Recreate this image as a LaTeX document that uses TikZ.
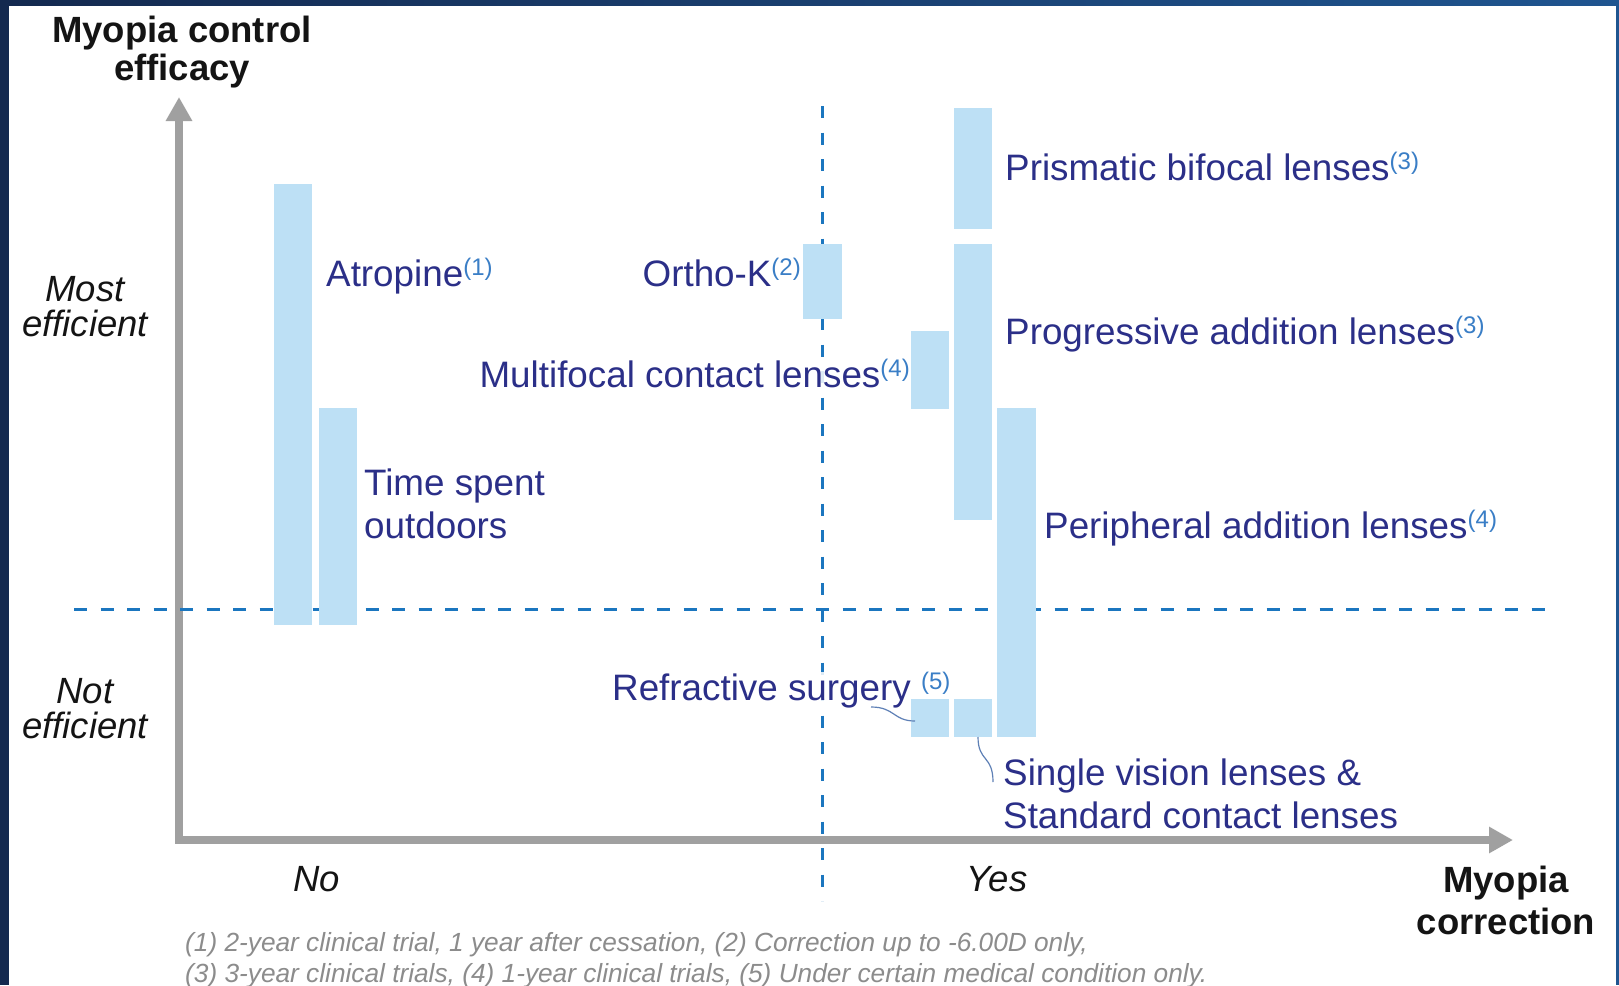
\documentclass[tikz,border=0pt]{standalone}
\usepackage{fontspec}
\setmainfont{Liberation Sans}
\usetikzlibrary{arrows.meta}
\definecolor{navy}{HTML}{14294F}
\definecolor{topblue}{HTML}{1F5590}
\definecolor{barblue}{HTML}{BDE0F5}
\definecolor{lblue}{HTML}{2B2F88}
\definecolor{supblue}{HTML}{3A7EC6}
\definecolor{dashblue}{HTML}{1B76BF}
\definecolor{axisgray}{HTML}{A0A0A0}
\definecolor{notegray}{HTML}{8C8C8C}
\definecolor{leadcol}{HTML}{5E80B6}
\newcommand{\fnref}[1]{\textcolor{supblue}{\raisebox{11pt}{\fontsize{24}{26}\selectfont(#1)}}}
\tikzset{
  bar/.style={fill=barblue, draw=none, minimum width=38pt, inner sep=0pt, outer sep=0pt},
  lbl/.style={text=lblue, font=\fontsize{36.8}{43}\selectfont, inner sep=0pt, anchor=base west, align=left},
  ttl/.style={text=black!92, font=\bfseries\fontsize{36.5}{38}\selectfont, inner sep=0pt, align=center, anchor=base},
  side/.style={text=black!92, font=\itshape\fontsize{36.5}{35}\selectfont, inner sep=0pt, align=center, anchor=base},
  note/.style={text=notegray, font=\itshape\fontsize{26.25}{31}\selectfont, inner sep=0pt, anchor=base west, align=left},
  axisline/.style={axisgray, line width=8pt, line join=miter},
  hdash/.style={dashblue, line width=3pt, dash pattern=on 13pt off 13.5pt},
  vdash/.style={dashblue, line width=3pt, dash pattern=on 12pt off 14.5pt},
  leadline/.style={leadcol, line width=1.2pt},
  veil/.style={fill=white, fill opacity=0.85, text opacity=1}
}
\begin{document}
\begin{tikzpicture}[x=1pt,y=-1pt]
\useasboundingbox (0,0) rectangle (1619,985);
% frame
\fill[white] (0,0) rectangle (1619,985);
\fill[navy] (0,0) rectangle (9,985);
\shade[left color=navy, right color=topblue] (0,0) rectangle (1619,5);
\fill[topblue] (1616,0) rectangle (1619,985);
% axes
\coordinate (ytop) at (179,97);
\coordinate (orig) at (179,840);
\coordinate (xend) at (1513,840);
\draw[axisline, {Triangle[width=25pt,length=24pt]}-{Triangle[width=25pt,length=24pt]}] (ytop) -- (orig) -- (xend);
% dashed guides
\coordinate (vt) at (822,106);
\coordinate (vb) at (822,901);
\coordinate (hl) at (74,609);
\coordinate (hr) at (1554,609);
\draw[vdash] (vt) -- (vb);
\draw[hdash] (hl) -- (hr);
% titles (base anchor = baseline of last line)
\node[ttl] (ytitle) at (182,80) {Myopia control\\efficacy};
\node[ttl, font=\bfseries\fontsize{36.5}{42}\selectfont] (xtitle) at (1506,934) {Myopia\\correction};
\node[side] (most) at (85,336) {Most\\efficient};
\node[side] (notef) at (85,738) {Not\\efficient};
\node[side] (no) at (316.5,891) {No};
\node[side] (yes) at (997,891) {Yes};
% labels
\node[lbl] (latr) at (326,286) {Atropine\fnref{1}};
\node[lbl, anchor=base east] (lortho) at (801,286) {Ortho-K\fnref{2}};
\node[lbl, anchor=base east, veil] (lmulti) at (910,387) {Multifocal contact lenses\fnref{4}};
\node[lbl] (lprism) at (1005,180) {Prismatic bifocal lenses\fnref{3}};
\node[lbl] (lprog) at (1005,344) {Progressive addition lenses\fnref{3}};
\node[lbl] (lperi) at (1044,538) {Peripheral addition lenses\fnref{4}};
\node[lbl] (ltime) at (364,538) {Time spent\\outdoors};
\node[lbl, veil] (lrefr) at (612,700) {Refractive surgery \fnref{5}};
\node[lbl] (lsingle) at (1003,828) {Single vision lenses \&\\Standard contact lenses};
% bars
\node[bar, minimum height=441pt] (batr) at (293,404.5) {};
\node[bar, minimum height=217pt] (btime) at (338,516.5) {};
\node[bar, minimum height=75pt, minimum width=39pt] (bortho) at (822.5,281.5) {};
\node[bar, minimum height=78pt] (bmulti) at (930,370) {};
\node[bar, minimum height=121pt] (bprism) at (973,168.5) {};
\node[bar, minimum height=276pt] (bprog) at (973,382) {};
\node[bar, minimum height=329pt, minimum width=39pt] (bperi) at (1016.5,572.5) {};
\node[bar, minimum height=38pt] (brefr) at (930,718) {};
\node[bar, minimum height=38pt] (bsingle) at (973,718) {};
% leaders
\coordinate (rA) at (871,707);
\coordinate (rB) at (915,721);
\draw[leadline] (rA) .. controls (895,707) and (893,721) .. (rB);
\coordinate (sA) at (978,737);
\coordinate (sB) at (993,782);
\draw[leadline] (sA) .. controls (978,762) and (993,755) .. (sB);
% footnote
\node[note] (notes) at (185,982) {(1) 2-year clinical trial, 1 year after cessation, (2) Correction up to -6.00D only,\\(3) 3-year clinical trials, (4) 1-year clinical trials, (5) Under certain medical condition only.};
\end{tikzpicture}
\end{document}
